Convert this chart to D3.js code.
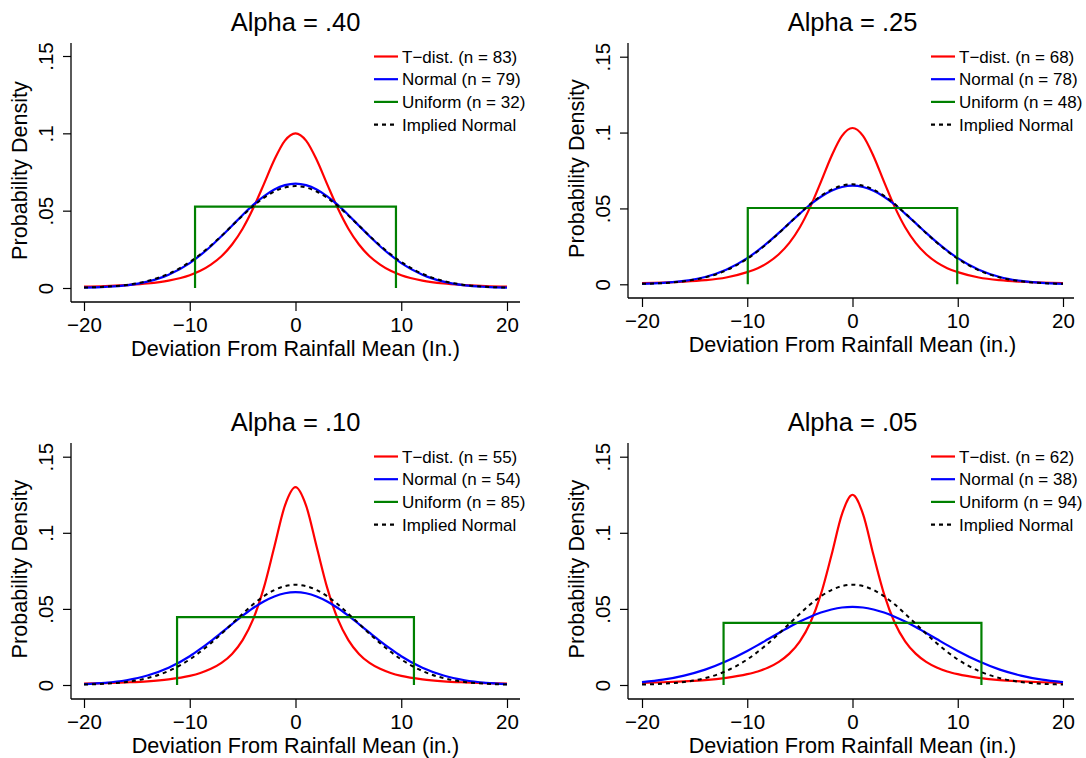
<!DOCTYPE html>
<html><head><meta charset="utf-8">
<script src="https://cdn.jsdelivr.net/npm/d3@7"></script>
<style>
body{margin:0;background:#fff}
svg{display:block}
text{font-family:"Liberation Sans",Arial,Helvetica,sans-serif;fill:#000}
</style>
</head><body>
<svg id="c" width="1086" height="758"></svg>
<script>
// ---- data ----
const xGrid = [-20,-18,-16,-14,-12,-10,-9,-8,-7,-6,-5,-4,-3,-2,-1,0,1,2,3,4,5,6,7,8,9,10,12,14,16,18,20];

const tDist40 = [.00085,.0012,.0019,.0029,.0048,.0083,.0111,.0151,.0205,.0281,.0383,.0515,.0670,.0829,.0953,.1000,.0953,.0829,.0670,.0515,.0383,.0281,.0205,.0151,.0111,.0083,.0048,.0029,.0019,.0012,.00085];
const normal40 = [.0002,.0007,.0017,.0041,.0086,.0161,.0212,.0270,.0335,.0403,.0472,.0537,.0593,.0637,.0665,.0675,.0665,.0637,.0593,.0537,.0472,.0403,.0335,.0270,.0212,.0161,.0086,.0041,.0017,.0007,.0002];

const tDist25 = [.0008,.0011,.0017,.0027,.0045,.0080,.0106,.0144,.0198,.0273,.0376,.0512,.0675,.0844,.0978,.1030,.0978,.0844,.0675,.0512,.0376,.0273,.0198,.0144,.0106,.0080,.0045,.0027,.0017,.0011,.0008];
const normal25 = [.0003,.0009,.0022,.0048,.0096,.0172,.0222,.0278,.0339,.0403,.0466,.0526,.0577,.0616,.0641,.0650,.0641,.0616,.0577,.0526,.0466,.0403,.0339,.0278,.0222,.0172,.0096,.0048,.0022,.0009,.0003];

const tDist10 = [.0009,.0012,.0017,.0024,.0037,.0060,.0079,.0106,.0145,.0204,.0295,.0433,.0638,.0908,.1179,.1300,.1179,.0908,.0638,.0433,.0295,.0204,.0145,.0106,.0079,.0060,.0037,.0024,.0017,.0012,.0009];
const normal10 = [.0006,.0014,.0031,.0062,.0113,.0189,.0237,.0289,.0344,.0400,.0455,.0506,.0549,.0582,.0603,.0610,.0603,.0582,.0549,.0506,.0455,.0400,.0344,.0289,.0237,.0189,.0113,.0062,.0031,.0014,.0006];

const tDist05 = [.0014,.0018,.0024,.0032,.0047,.0071,.0089,.0115,.0152,.0206,.0287,.0411,.0597,.0852,.1123,.1250,.1123,.0852,.0597,.0411,.0287,.0206,.0152,.0115,.0089,.0071,.0047,.0032,.0024,.0018,.0014];
const normal05 = [.0019,.0035,.0062,.0101,.0156,.0224,.0262,.0302,.0342,.0381,.0417,.0449,.0476,.0496,.0509,.0513,.0509,.0496,.0476,.0449,.0417,.0381,.0342,.0302,.0262,.0224,.0156,.0101,.0062,.0035,.0019];

const impliedNormal = [.0003,.0008,.0020,.0045,.0092,.0168,.0218,.0275,.0337,.0403,.0468,.0530,.0583,.0624,.0650,.0659,.0650,.0624,.0583,.0530,.0468,.0403,.0337,.0275,.0218,.0168,.0092,.0045,.0020,.0008,.0003];

const uniformLo = [-9.5,-9.95,-11.2,-12.25];
const uniformHi = [9.5,9.95,11.2,12.25];
const uniformHeight = [.0526,.0503,.0446,.0408];

const panelTitles = ["Alpha = .40","Alpha = .25","Alpha = .10","Alpha = .05"];
const xAxisTitles = ["Deviation From Rainfall Mean (In.)","Deviation From Rainfall Mean (in.)","Deviation From Rainfall Mean (in.)","Deviation From Rainfall Mean (in.)"];
const yAxisTitle = "Probability Density";
const nTdist = [83,68,55,62];
const nNormal = [79,78,54,38];
const nUniform = [32,48,85,94];
const xTicks = [-20,-10,0,10,20];
const yTicks = [0,.05,.1,.15];
const yTickLabels = ["0",".05",".1",".15"];

const tSeries = [tDist40,tDist25,tDist10,tDist05];
const nSeries = [normal40,normal25,normal10,normal05];

// ---- layout (pixels) ----
const layout = [
  {left:71, right:520, x0:84, x1:507, top:43, base:302, y0:288, y15:56},
  {left:628,right:1074,x0:642,x1:1063,top:43, base:298, y0:284.3, y15:56.7},
  {left:71, right:520, x0:84, x1:507, top:443,base:699, y0:685, y15:456.7},
  {left:628,right:1074,x0:642,x1:1063,top:443,base:699, y0:685, y15:456.7}
];
const RED="#ff0000", BLUE="#0000ff", GREEN="#008000";
const svg = d3.select("#c");

layout.forEach((L,p)=>{
  const g = svg.append("g");
  const x = d3.scaleLinear().domain([-20,20]).range([L.x0,L.x1]);
  const y = d3.scaleLinear().domain([0,.15]).range([L.y0,L.y15]);

  // axis lines
  g.append("line").attr("x1",L.left).attr("x2",L.right).attr("y1",L.base).attr("y2",L.base)
    .attr("stroke","#000").attr("stroke-width",1.3);
  g.append("line").attr("x1",L.left).attr("x2",L.left).attr("y1",L.top).attr("y2",L.base)
    .attr("stroke","#000").attr("stroke-width",1.3);

  // x axis
  const xa = g.append("g").attr("transform",`translate(0,${L.base})`)
    .call(d3.axisBottom(x).tickValues(xTicks).tickSize(9).tickPadding(6)
      .tickFormat(d=> d<0 ? "\u2212"+Math.abs(d) : String(d)));
  xa.select(".domain").remove();
  xa.selectAll(".tick line").attr("stroke","#000").attr("stroke-width",1.2);
  xa.selectAll(".tick text").attr("font-size",20.5).attr("font-family","Liberation Sans, Arial, sans-serif").attr("fill","#000");

  // y axis
  const ya = g.append("g").attr("transform",`translate(${L.left},0)`)
    .call(d3.axisLeft(y).tickValues(yTicks).tickSize(8).tickFormat((d,i)=>yTickLabels[i]));
  ya.select(".domain").remove();
  ya.selectAll(".tick line").attr("stroke","#000").attr("stroke-width",1.2);
  ya.selectAll(".tick text").attr("font-size",20.5).attr("font-family","Liberation Sans, Arial, sans-serif")
    .attr("fill","#000").attr("text-anchor","middle").attr("dy",0).attr("x",0).attr("y",0)
    .attr("transform","translate(-18,0) rotate(-90)");

  // titles
  g.append("text").attr("x",x(0)).attr("y",L.top-12).attr("text-anchor","middle")
    .attr("font-size",25.5).text(panelTitles[p]);
  g.append("text").attr("x",x(0)).attr("y",L.base+54).attr("text-anchor","middle")
    .attr("font-size",21.6).text(xAxisTitles[p]);
  const yc = (L.top+L.base)/2 - 2;
  g.append("text").attr("transform",`translate(${L.left-44},${yc}) rotate(-90)`)
    .attr("text-anchor","middle").attr("font-size",21.6).text(yAxisTitle);

  // curves
  const line = d3.line().x((d,i)=>x(xGrid[i])).y(d=>y(d)).curve(d3.curveMonotoneX);
  g.append("path").attr("d",line(tSeries[p])).attr("fill","none").attr("stroke",RED).attr("stroke-width",2.2);
  g.append("path").attr("d",line(nSeries[p])).attr("fill","none").attr("stroke",BLUE).attr("stroke-width",2.2);
  const uni = [[uniformLo[p],0],[uniformLo[p],uniformHeight[p]],[uniformHi[p],uniformHeight[p]],[uniformHi[p],0]];
  g.append("path").attr("d",d3.line().x(d=>x(d[0])).y(d=>y(d[1]))(uni))
    .attr("fill","none").attr("stroke",GREEN).attr("stroke-width",2.2);
  g.append("path").attr("d",line(impliedNormal)).attr("fill","none").attr("stroke","#000")
    .attr("stroke-width",2).attr("stroke-dasharray","4,4");

  // legend
  const items = [
    {label:`T\u2212dist. (n = ${nTdist[p]})`, color:RED, dash:null},
    {label:`Normal (n = ${nNormal[p]})`, color:BLUE, dash:null},
    {label:`Uniform (n = ${nUniform[p]})`, color:GREEN, dash:null},
    {label:"Implied Normal", color:"#000", dash:"4,4"}
  ];
  items.forEach((it,i)=>{
    const ly = L.top + 13.5 + i*22.7;
    g.append("line").attr("x1",L.left+303).attr("x2",L.left+327).attr("y1",ly).attr("y2",ly)
      .attr("stroke",it.color).attr("stroke-width",2.2).attr("stroke-dasharray",it.dash);
    g.append("text").attr("x",L.left+331).attr("y",ly+6).attr("font-size",17).text(it.label);
  });
});
</script>
</body></html>
